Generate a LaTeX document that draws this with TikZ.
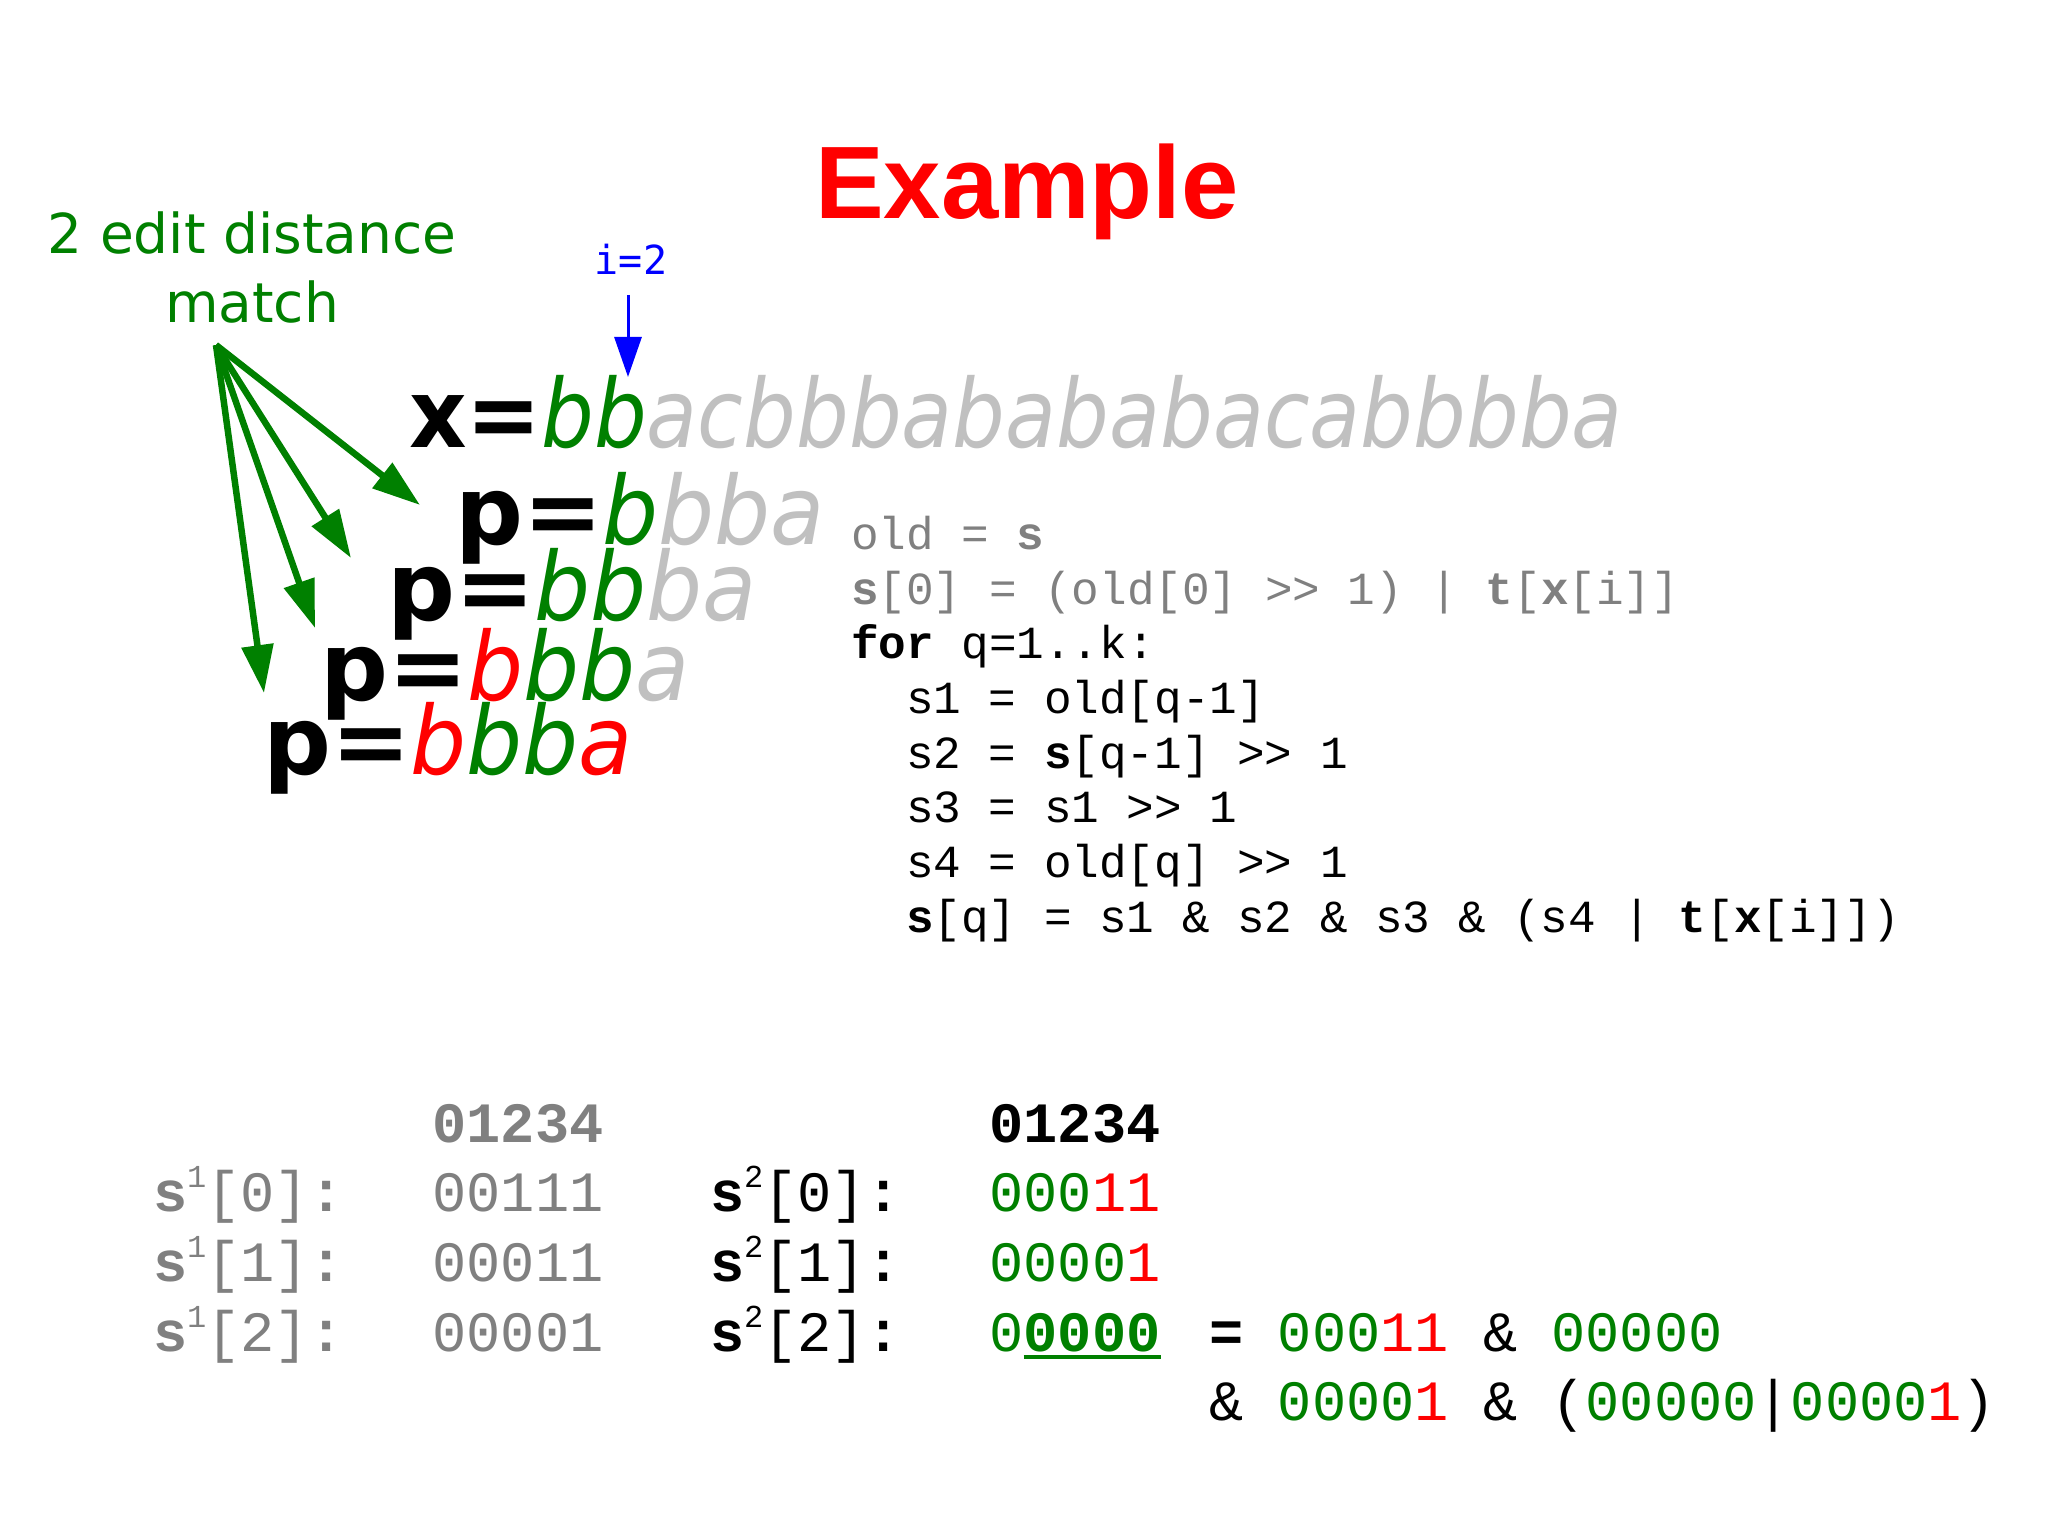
\documentclass[tikz,border=0pt]{standalone}
\usepackage{fontspec}
\usetikzlibrary{arrows.meta,calc}
\newfontfamily\dvsn{DejaVu Sans}
\newfontfamily\dvbx[FakeStretch=0.94]{DejaVu Sans Bold}
\newfontfamily\dvbp{DejaVu Sans Bold}
\newfontfamily\dvox[FakeStretch=0.875]{DejaVu Sans Oblique}
\newfontfamily\dvop[FakeStretch=0.93]{DejaVu Sans Oblique}
\newfontfamily\lmono{Liberation Mono}
\newfontfamily\dvmono{DejaVu Sans Mono}
\newfontfamily\lsans{Liberation Sans}
\definecolor{pgreen}{RGB}{0,128,0}
\definecolor{pred}{RGB}{255,0,0}
\definecolor{lgray}{RGB}{192,192,192}
\definecolor{cgray}{RGB}{128,128,128}
\definecolor{pblue}{RGB}{0,0,255}
\begin{document}
\begin{tikzpicture}[x=0.5pt,y=-0.5pt,
  txt/.style={inner sep=0pt,outer sep=0pt,anchor=base west},
  ctxt/.style={inner sep=0pt,outer sep=0pt,anchor=base},
  big/.style={txt,font=\fontsize{47.5}{50}\selectfont},
  code/.style={txt,font=\fontsize{23}{25}\lmono},
  tab/.style={txt,font=\fontsize{28.5}{30}\lmono},
  ctab/.style={ctxt,font=\fontsize{28.5}{30}\lmono},
  garrow/.style={draw=pgreen,line width=3.25pt,-{Triangle[length=24pt,width=15.5pt]}},
  barrow/.style={draw=pblue,line width=1.5pt,-{Triangle[length=20pt,width=13.5pt]}},
  uline/.style={draw=pgreen,line width=2pt}]
\useasboundingbox[fill=white] (0,0) rectangle (2048,1535);

% title
\node[ctxt,font=\fontsize{51.5}{60}\lsans\bfseries,text=pred] (title) at (1027,219) {Example};

% label
\node[ctxt,font=\fontsize{27.5}{30}\dvsn,text=pgreen] (lab1) at (252,254) {2 edit distance};
\node[ctxt,font=\fontsize{27.5}{30}\dvsn,text=pgreen] (lab2) at (252,322) {match};

% i=2
\node[ctxt,font=\fontsize{20}{22}\dvmono,text=pblue] (i2) at (631,275) {i=2};
\coordinate (itop) at (628,295);
\coordinate (ipos) at (628,377);
\draw[barrow] (itop) -- (ipos);

% strings
\node[big] (xs) at (409,447) {{\dvbx x=}{\dvox\textcolor{pgreen}{bb}\textcolor{lgray}{acbbbabababacabbbba}}};
\node[big] (p1) at (455,544) {{\dvbp p=}{\dvop\textcolor{pgreen}{b}\textcolor{lgray}{bba}}};
\node[big] (p2) at (387,620) {{\dvbp p=}{\dvop\textcolor{pgreen}{bb}\textcolor{lgray}{ba}}};
\node[big] (p3) at (320,700) {{\dvbp p=}{\dvop\textcolor{pred}{b}\textcolor{pgreen}{bb}\textcolor{lgray}{a}}};
\node[big] (p4) at (263,774) {{\dvbp p=}{\dvop\textcolor{pred}{b}\textcolor{pgreen}{bb}\textcolor{pred}{a}}};

% green arrows
\coordinate (fan) at (216,345);
\coordinate (t1) at (420,505);
\coordinate (t2) at (351,558);
\coordinate (t3) at (315,628);
\coordinate (t4) at (264,693);
\draw[garrow] (fan) -- (t1);
\draw[garrow] (fan) -- (t2);
\draw[garrow] (fan) -- (t3);
\draw[garrow] (fan) -- (t4);

% code
\node[code,text=cgray] (c1) at (851,549) {old = \textbf{s}};
\node[code,text=cgray] (c2) at (851,604) {\textbf{s}[0] = (old[0] >> 1) | \textbf{t}[\textbf{x}[i]]};
\node[code] (c3) at (851,658) {\textbf{for} q=1..k:};
\node[code] (c4) at (906,713) {s1 = old[q-1]};
\node[code] (c5) at (906,768) {s2 = \textbf{s}[q-1] >> 1};
\node[code] (c6) at (906,822) {s3 = s1 >> 1};
\node[code] (c7) at (906,877) {s4 = old[q] >> 1};
\node[code] (c8) at (906,932) {\textbf{s}[q] = s1 \& s2 \& s3 \& (s4 | \textbf{t}[\textbf{x}[i]])};

% bottom table, left
\node[ctab,text=cgray] (h1) at (518,1142) {\textbf{01234}};
\node[tab,text=cgray] (l10) at (153,1211) {\textbf{s}\raisebox{12pt}{\fontsize{16}{16}\selectfont 1}[0]\textbf{:}};
\node[tab,text=cgray] (l11) at (153,1281) {\textbf{s}\raisebox{12pt}{\fontsize{16}{16}\selectfont 1}[1]\textbf{:}};
\node[tab,text=cgray] (l12) at (153,1351) {\textbf{s}\raisebox{12pt}{\fontsize{16}{16}\selectfont 1}[2]\textbf{:}};
\node[ctab,text=cgray] (v10) at (518,1211) {00111};
\node[ctab,text=cgray] (v11) at (518,1281) {00011};
\node[ctab,text=cgray] (v12) at (518,1351) {00001};

% bottom table, right
\node[ctab] (h2) at (1075,1142) {\textbf{01234}};
\node[tab] (l20) at (710,1211) {\textbf{s}\raisebox{12pt}{\fontsize{16}{16}\selectfont 2}[0]\textbf{:}};
\node[tab] (l21) at (710,1281) {\textbf{s}\raisebox{12pt}{\fontsize{16}{16}\selectfont 2}[1]\textbf{:}};
\node[tab] (l22) at (710,1351) {\textbf{s}\raisebox{12pt}{\fontsize{16}{16}\selectfont 2}[2]\textbf{:}};
\node[ctab] (v20) at (1075,1211) {\textcolor{pgreen}{000}\textcolor{pred}{11}};
\node[ctab] (v21) at (1075,1281) {\textcolor{pgreen}{0000}\textcolor{pred}{1}};
\node[ctab,text=pgreen] (v22) at (1075,1351) {0\textbf{0000}};
\draw[uline] ($(v22.base west)+(34.2,6)$) -- ($(v22.base east)+(0,6)$);

% equation
\node[tab] (e1) at (1209.4,1351) {\textbf{=} \textcolor{pgreen}{000}\textcolor{pred}{11} \& \textcolor{pgreen}{00000}};
\node[tab] (e2) at (1209.4,1420) {\& \textcolor{pgreen}{0000}\textcolor{pred}{1} \& (\textcolor{pgreen}{00000}|\textcolor{pgreen}{0000}\textcolor{pred}{1})};
\end{tikzpicture}
\end{document}
